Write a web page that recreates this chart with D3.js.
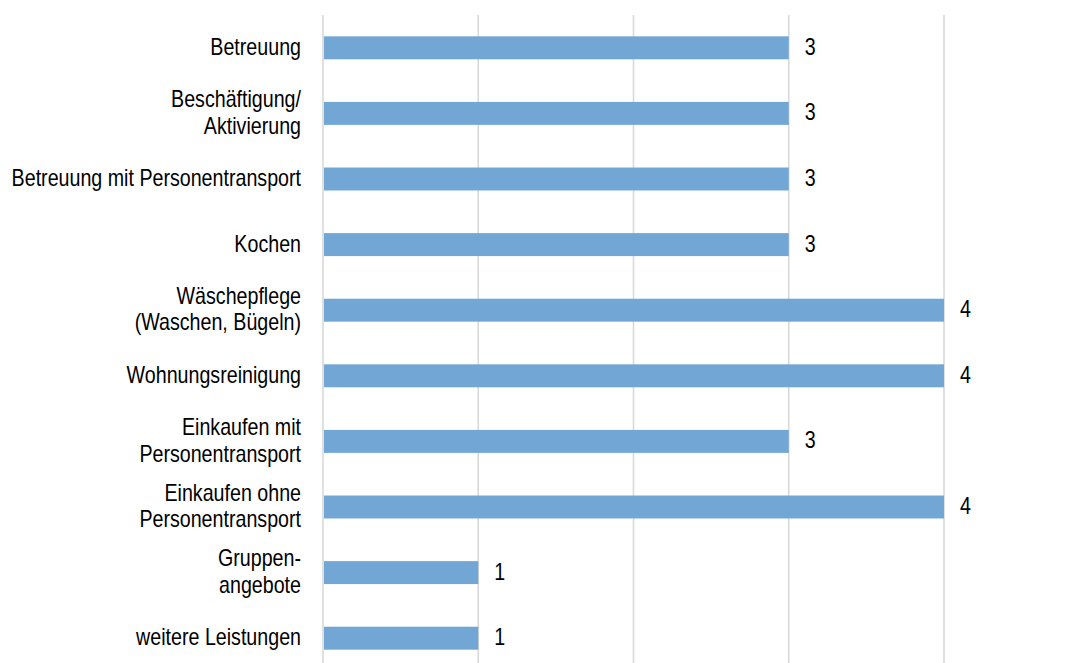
<!DOCTYPE html>
<html>
<head>
<meta charset="utf-8">
<script src="https://cdn.jsdelivr.net/npm/d3@7"></script>
<style>
  html, body { margin: 0; padding: 0; background: #ffffff; }
  svg { display: block; }
  text { font-family: "Liberation Sans", Arial, sans-serif; fill: #000; }
</style>
</head>
<body>
<svg id="chart" width="1086" height="663"></svg>
<script>
// Leistungsbereiche (line breaks marked with "\n")
const categories = [
  "Betreuung",
  "Beschäftigung/\nAktivierung",
  "Betreuung mit Personentransport",
  "Kochen",
  "Wäschepflege\n(Waschen, Bügeln)",
  "Wohnungsreinigung",
  "Einkaufen mit\nPersonentransport",
  "Einkaufen ohne\nPersonentransport",
  "Gruppen-\nangebote",
  "weitere Leistungen"
];
const values = [3, 3, 3, 3, 4, 4, 3, 4, 1, 1];
const xTicks = [0, 1, 2, 3, 4];

const width = 1086, height = 663;
const fontSize = 23;
const narrow = 0.855;   // horizontal squeeze for a narrow sans look
const svg = d3.select("#chart");

const x = d3.scaleLinear().domain([0, 4]).range([323, 944]);
const y = d3.scaleBand()
  .domain(categories)
  .range([15, 671])
  .paddingInner(0.65)
  .paddingOuter(0.325);

// vertical gridlines
svg.append("g")
  .selectAll("line")
  .data(xTicks)
  .join("line")
  .attr("x1", d => x(d))
  .attr("x2", d => x(d))
  .attr("y1", 15)
  .attr("y2", height)
  .attr("stroke", "#d9d9d9")
  .attr("stroke-width", 1.6);

// bars
svg.append("g")
  .selectAll("rect")
  .data(categories)
  .join("rect")
  .attr("x", x(0) + 1)
  .attr("y", d => y(d))
  .attr("width", (d, i) => x(values[i]) - x(0) - 1)
  .attr("height", y.bandwidth())
  .attr("fill", "#72a7d5");

// category labels
const lineH = 26.5;
const labels = svg.append("g")
  .attr("transform", `translate(301,0) scale(${narrow},1)`)
  .selectAll("text")
  .data(categories)
  .join("text")
  .attr("text-anchor", "end")
  .attr("font-size", fontSize)
  .attr("x", 0);
labels.each(function(d) {
  const lines = d.split("\n");
  const cy = y(d) + y.bandwidth() / 2;
  const n = lines.length;
  d3.select(this).selectAll("tspan")
    .data(lines)
    .join("tspan")
    .attr("x", 0)
    .attr("y", (l, i) => cy + 7 + (i - (n - 1) / 2) * lineH)
    .text(l => l);
});

// value labels
svg.append("g")
  .selectAll("text")
  .data(categories)
  .join("text")
  .attr("font-size", fontSize)
  .attr("transform", (d, i) =>
    `translate(${x(values[i]) + 16},${y(d) + y.bandwidth() / 2 + 7}) scale(${narrow},1)`)
  .text((d, i) => values[i]);
</script>
</body>
</html>
